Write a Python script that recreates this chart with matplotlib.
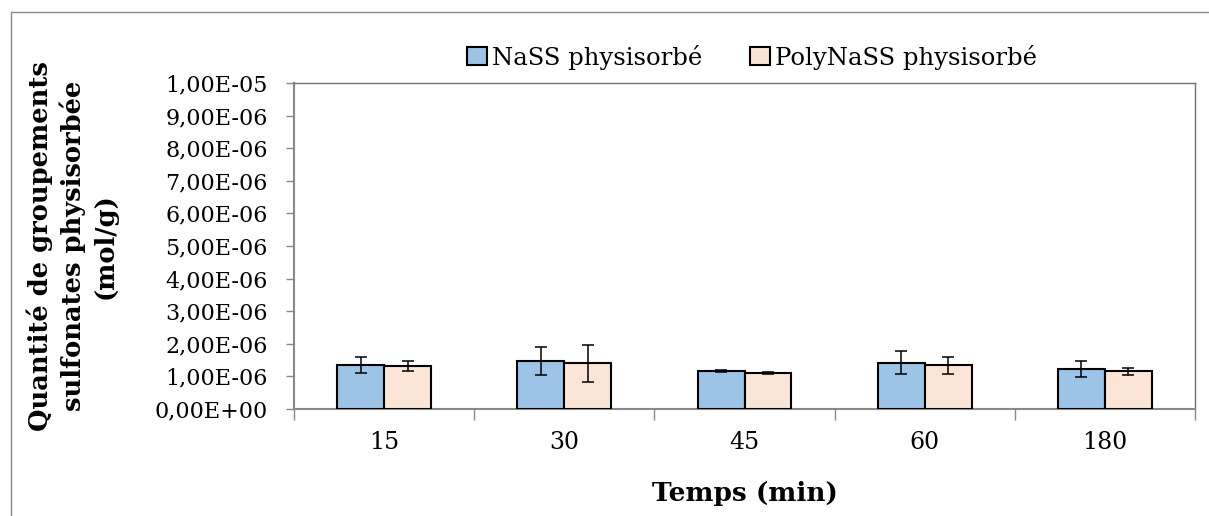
import matplotlib
matplotlib.use("Agg")
import matplotlib.pyplot as plt
from matplotlib.patches import Rectangle
from matplotlib.ticker import FixedLocator, FuncFormatter
import numpy as np

categories = ["15", "30", "45", "60", "180"]
nass = [1.34e-6, 1.48e-6, 1.17e-6, 1.42e-6, 1.23e-6]
nass_err = [0.25e-6, 0.43e-6, 0.03e-6, 0.36e-6, 0.25e-6]
poly = [1.31e-6, 1.40e-6, 1.11e-6, 1.34e-6, 1.16e-6]
poly_err = [0.15e-6, 0.56e-6, 0.03e-6, 0.27e-6, 0.11e-6]
series_names = ["NaSS physisorbé", "PolyNaSS physisorbé"]
yticks = [i * 1e-6 for i in range(11)]

plt.rcParams['font.family'] = ['DejaVu Serif']

W, H = 1209, 516
fig = plt.figure(figsize=(W / 100, H / 100), dpi=100)
ax = fig.add_axes([294 / W, 1 - 409 / H, (1195 - 294) / W, (409 - 83) / H])

# outer chart frame
fig.patches.append(Rectangle((11 / W, -0.05), 1.2, 1 - 12 / H + 0.05, transform=fig.transFigure,
                             fill=False, edgecolor="#898989", linewidth=1.0))

x = np.arange(len(categories))
bw = 0.26
ax.bar(x - bw / 2, nass, bw, color="#9DC3E6", edgecolor="black", linewidth=1.5,
       label=series_names[0], zorder=3)
ax.bar(x + bw / 2, poly, bw, color="#FBE5D6", edgecolor="black", linewidth=1.5,
       label=series_names[1], zorder=3)
ax.errorbar(x - bw / 2, nass, yerr=nass_err, fmt="none", ecolor="black", elinewidth=1.1,
            capsize=4.5, capthick=1.1, zorder=4)
ax.errorbar(x + bw / 2, poly, yerr=poly_err, fmt="none", ecolor="black", elinewidth=1.1,
            capsize=4.5, capthick=1.1, zorder=4)

ax.set_xlim(-0.5, len(categories) - 0.5)
ax.set_ylim(0, 1e-5)
ax.set_yticks(yticks)
ax.yaxis.set_major_formatter(FuncFormatter(lambda v, p: ("%.2E" % v).replace(".", ",")))
ax.set_xticks(x)
ax.set_xticklabels(categories)
ax.xaxis.set_minor_locator(FixedLocator(np.arange(-0.5, len(categories), 1.0)))
ax.tick_params(axis="x", which="major", length=0, pad=16, labelsize=17)
ax.tick_params(axis="x", which="minor", length=8, width=1, color="#898989", direction="out")
ax.tick_params(axis="y", length=6, width=1, color="#898989", direction="out", pad=13, labelsize=16)

for s in ["left", "bottom"]:
    ax.spines[s].set_color("#898989")
    ax.spines[s].set_linewidth(1.5)
for s in ["top", "right"]:
    ax.spines[s].set_color("#6e6e6e")
    ax.spines[s].set_linewidth(1.0)

ax.set_xlabel("Temps (min)", fontsize=19, fontweight="bold", labelpad=19)
fig.text(72 / W, 1 - 246 / H, "Quantité de groupements\nsulfonates physisorbée\n(mol/g)",
         rotation=90, ha="center", va="center", fontsize=18.5, fontweight="bold",
         linespacing=1.3)

leg = ax.legend(loc="center", bbox_to_anchor=((752 - 294) / (1195 - 294), 1 + (83 - 57) / (409 - 83)),
                ncol=2, frameon=False, fontsize=17.5, handlelength=0.8, handleheight=0.8,
                handletextpad=0.2, columnspacing=2.0, borderaxespad=0)

fig.savefig("out.png", dpi=100)
